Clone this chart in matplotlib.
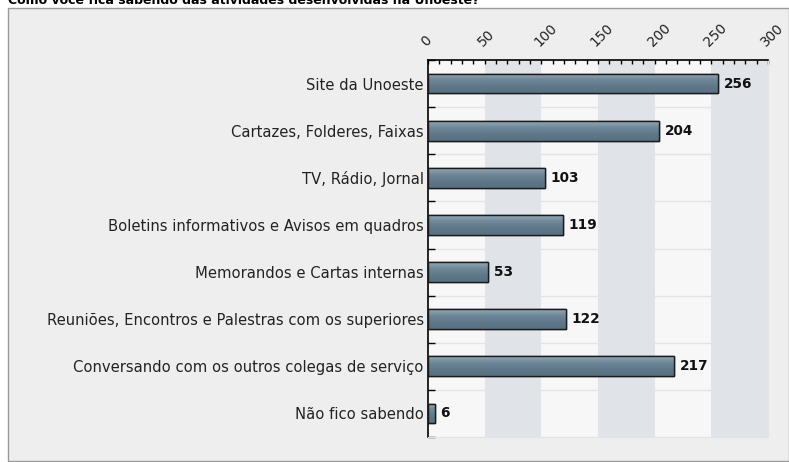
import matplotlib
matplotlib.use("Agg")
import matplotlib.pyplot as plt
import numpy as np
from matplotlib.patches import Rectangle
from matplotlib.colors import LinearSegmentedColormap

categories = [
    "Site da Unoeste",
    "Cartazes, Folderes, Faixas",
    "TV, Rádio, Jornal",
    "Boletins informativos e Avisos em quadros",
    "Memorandos e Cartas internas",
    "Reuniões, Encontros e Palestras com os superiores",
    "Conversando com os outros colegas de serviço",
    "Não fico sabendo",
]
counts = [256, 204, 103, 119, 53, 122, 217, 6]
x_ticks = [0, 50, 100, 150, 200, 250, 300]

TITLE = "Como você fica sabendo das atividades desenvolvidas na Unoeste?"
BAR_COLOR = "#5f7889"
BAND_COLOR = "#e0e4e8"
PLOT_BG = "#f7f7f7"
PANEL_BG = "#eeeeee"
BAR_H = 0.42

fig = plt.figure(figsize=(7.89, 4.62), dpi=100)
fig.patch.set_facecolor("white")

# outer grey panel behind the chart
bg = fig.add_axes([0, 0, 1, 1], zorder=-1)
bg.set_xlim(0, 789)
bg.set_ylim(462, 0)
bg.axis("off")
bg.add_patch(Rectangle((8, 8), 781, 453, facecolor=PANEL_BG,
                       edgecolor="#9a9a9a", linewidth=1.0))
fig.text(8 / 789, 1.0 - 1 / 462, TITLE, fontsize=9, fontweight="bold",
         ha="left", va="center")

ax = fig.add_axes([428 / 789, 25 / 462, 340 / 789, 377 / 462])
ax.set_facecolor(PLOT_BG)
n = len(categories)
y = np.arange(n)

for start in x_ticks[1::2]:
    ax.axvspan(start, start + 50, color=BAND_COLOR, zorder=0, lw=0)
for b in np.arange(-0.5, n, 1.0):
    ax.axhline(b, color="#e3e3e3", lw=1.0, zorder=1)

# bars with a soft vertical gradient
grad_cmap = LinearSegmentedColormap.from_list(
    "bar", ["#93a8b6", "#6e8798", BAR_COLOR, "#587080"])
grad = np.linspace(0, 1, 64).reshape(-1, 1)
bars = ax.barh(y, counts, height=BAR_H, color=BAR_COLOR, edgecolor="#1a1a1a",
               linewidth=1.0, zorder=3)
for bar, yi, v in zip(bars, y, counts):
    im = ax.imshow(grad, cmap=grad_cmap, aspect="auto", zorder=3.5,
                   extent=[0, v, yi + BAR_H / 2, yi - BAR_H / 2],
                   interpolation="bicubic")
    im.set_clip_path(bar)
    ax.add_patch(Rectangle((0, yi - BAR_H / 2), v, BAR_H, fill=False,
                           edgecolor="#1a1a1a", linewidth=1.0, zorder=3.6))
    ax.text(v + 5, yi, str(v), va="center", ha="left", fontsize=9.8,
            fontweight="bold", color="#111111", zorder=4)

ax.set_xlim(0, 300)
ax.set_ylim(n - 0.5, -0.5)

ax.xaxis.tick_top()
ax.set_xticks(x_ticks)
ax.set_xticklabels([str(t) for t in x_ticks], rotation=45, ha="left",
                   va="bottom", rotation_mode="anchor", fontsize=9.8,
                   color="#222222")
ax.set_xticks(np.arange(0, 301, 10), minor=True)
ax.tick_params(axis="x", which="major", direction="in", length=3.2, width=1, pad=8)
ax.tick_params(axis="x", which="minor", direction="in", length=3.2, width=1,
               top=True, bottom=False)

ax.set_yticks(y)
ax.set_yticklabels(categories, fontsize=10.6, color="#222222")
ax.tick_params(axis="y", which="major", length=0, pad=3)
ax.set_yticks(np.arange(-0.5, n, 1.0), minor=True)
ax.tick_params(axis="y", which="minor", direction="in", length=5, width=1, left=True)

for side in ["top", "left"]:
    ax.spines[side].set_color("black")
    ax.spines[side].set_linewidth(1.2)
for side in ["right", "bottom"]:
    ax.spines[side].set_color("#e3e3e3")

fig.savefig("out.png", dpi=100)
